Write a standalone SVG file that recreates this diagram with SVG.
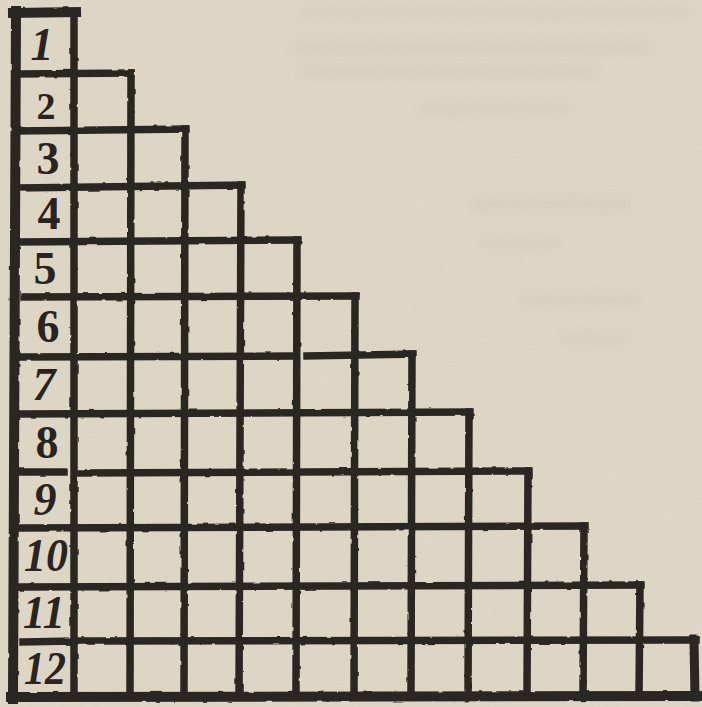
<svg xmlns="http://www.w3.org/2000/svg" width="702" height="707" viewBox="0 0 702 707">
  <defs>
    <filter id="paper" x="0" y="0" width="100%" height="100%">
      <feTurbulence type="fractalNoise" baseFrequency="0.9" numOctaves="2" seed="3" result="n"/>
      <feColorMatrix in="n" type="matrix" values="0 0 0 0 0.45  0 0 0 0 0.40  0 0 0 0 0.32  0 0 0 0.22 -0.04"/>
    </filter>
    <filter id="ghost" x="-20%" y="-100%" width="140%" height="300%">
      <feGaussianBlur stdDeviation="5"/>
    </filter>
    <filter id="ink" x="-2%" y="-2%" width="104%" height="104%">
      <feTurbulence type="fractalNoise" baseFrequency="0.08" numOctaves="2" seed="7" result="t"/>
      <feDisplacementMap in="SourceGraphic" in2="t" scale="2.5" xChannelSelector="R" yChannelSelector="G"/>
    </filter>
    <style>
      .ln { fill: none; stroke: #2c2622; stroke-width: 7.5; stroke-linecap: square; }
      .bd { fill: none; stroke: #2c2622; stroke-width: 10; stroke-linecap: square; }
      .num { font-family: "Liberation Serif", "DejaVu Serif", serif; font-weight: bold; fill: #2a2420; text-anchor: middle; font-size: 46px; }
      .it { font-style: italic; }
      .gh { fill: #7d776b; opacity: 0.05; filter: url(#ghost); }
    </style>
  </defs>

  <rect width="702" height="707" fill="#e1d9c7"/>
  <rect width="702" height="707" filter="url(#paper)"/>

  <g id="show-through">
    <rect class="gh" x="300" y="8" width="390" height="12"/>
    <rect class="gh" x="290" y="40" width="360" height="14"/>
    <rect class="gh" x="300" y="66" width="300" height="12"/>
    <rect class="gh" x="420" y="104" width="150" height="12"/>
    <rect class="gh" x="470" y="196" width="160" height="16"/>
    <rect class="gh" x="480" y="236" width="80" height="12"/>
    <rect class="gh" x="520" y="292" width="120" height="14"/>
    <rect class="gh" x="560" y="332" width="70" height="12"/>
  </g>

  <g id="grid" filter="url(#ink)">
    <!-- outer border -->
    <path class="bd" d="M16,11 L13,699"/>
    <path class="bd" d="M13,13 L76,12"/>
    <path class="bd" d="M11,697 L697,696"/>
    <path class="bd" style="stroke-width:9" d="M694,640 L695,697"/>

    <!-- horizontal row lines -->
    <path class="ln" d="M18,74 L131,73"/>
    <path class="ln" d="M18,131 L186,129"/>
    <path class="ln" d="M18,188 L242,185"/>
    <path class="ln" d="M18,242 L298,240"/>
    <path class="ln" d="M24,297 L356,296"/>
    <path class="ln" d="M18,357 L293,356"/>
    <path class="ln" d="M307,356 L413,354"/>
    <path class="ln" d="M18,414 L470,412"/>
    <path class="ln" d="M19,472 L63,472"/>
    <path class="ln" d="M80,473 L529,471"/>
    <path class="ln" d="M18,528 L585,526"/>
    <path class="ln" d="M18,587 L641,585"/>
    <path class="ln" d="M23,642 L71,641"/>
    <path class="ln" d="M80,641 L696,640"/>

    <!-- vertical column lines -->
    <path class="ln" d="M74,12 L74,696"/>
    <path class="ln" d="M131,73 L130,696"/>
    <path class="ln" d="M185,129 L184,696"/>
    <path class="ln" d="M241,185 L239,696"/>
    <path class="ln" d="M297,240 L296,696"/>
    <path class="ln" d="M355,296 L354,696"/>
    <path class="ln" d="M412,354 L411,696"/>
    <path class="ln" d="M469,412 L468,696"/>
    <path class="ln" d="M528,471 L527,696"/>
    <path class="ln" d="M584,526 L583,696"/>
    <path class="ln" d="M640,585 L639,696"/>
  </g>

  <g id="labels">
    <text class="num it" x="42" y="60">1</text>
    <text class="num" x="46" y="119" style="font-size:38px">2</text>
    <text class="num" x="48" y="174">3</text>
    <text class="num" x="49" y="229">4</text>
    <text class="num" x="45" y="284">5</text>
    <text class="num" x="48" y="342">6</text>
    <text class="num it" x="44" y="400">7</text>
    <text class="num" x="47" y="458">8</text>
    <text class="num it" x="45" y="515">9</text>
    <text class="num it" x="46" y="571" textLength="44" lengthAdjust="spacingAndGlyphs">10</text>
    <text class="num it" x="44" y="628" textLength="42" lengthAdjust="spacingAndGlyphs">11</text>
    <text class="num it" x="45" y="684" textLength="42" lengthAdjust="spacingAndGlyphs">12</text>
  </g>
</svg>
